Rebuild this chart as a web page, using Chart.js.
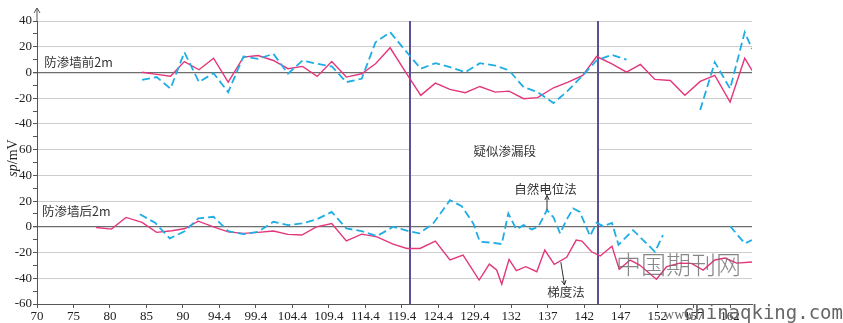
<!DOCTYPE html>
<html>
<head>
<meta charset="utf-8">
<script src="https://cdn.jsdelivr.net/npm/chart.js@4.4.1/dist/chart.umd.min.js"></script>
<style>
  html, body { margin: 0; padding: 0; background: #fff; }
  #wrap { width: 843px; height: 323px; }
</style>
</head>
<body>
<div id="wrap"><canvas id="spChart" width="843" height="323"></canvas></div>
<script>
// stations along the wall (m) and tick captions
const xLabels = ['70', '75', '80', '85', '90', '94.4', '99.4', '104.4', '109.4', '114.4',
  '119.4', '124.4', '129.4', '132', '137', '142', '147', '152', '157', '162'];

// 2 m in front of the cut-off wall (shifted up by OFFSET on the shared axis)
const upperStations = [84.4, 86.4, 88.3, 90.2, 92.2, 94.2, 96.2, 98.3, 100.3, 102.4, 104.4,
  106.4, 108.4, 110.4, 112.4, 114.5, 116.4, 118.4, 120.5, 122.6, 124.6, 126.6, 128.7, 130.7,
  132.8, 134.7, 136.7, 138.6, 140.8, 142.8, 144.8, 146.7, 148.8, 150.8, 152.7, 154.7, 156.8,
  158.8, 160.9, 162.9, 165.0, 167.0, 168.0];
const upperGradient = [0.2, -1.5, -2.9, 8.5, 2.1, 11.1, -7.5, 11.9, 13.2, 9.3, 2.9, 4.7, -3.1,
  8.5, -3.6, -1, 6.7, 19.2, 0.5, -17.8, -8.3, -13.2, -15.7, -10.9, -15.3, -14.5, -20.4, -19.6,
  -11.9, -7.5, -2.3, 12.4, 6.7, 0.2, 6.2, -5.4, -6.2, -17.8, -7, -2.3, -23, 11.1, 1.6];
const upperSelfPotential = [-5.7, -3.6, -12.6, 15.7, -7.5, -0.5, -15.3, 12.4, 10.6, 14.5, -1,
  9.3, 6.7, 4.7, -7.5, -4.9, 23.5, 31.3, 17, 2.9, 7.2, 4.1, 0.2, 7.2, 5.4, 1.6, -11.4, -15.3,
  -23.8, -14, -2.3, 9.3, 13.7, 9.9, null, null, null, null, -29.2, 8, -12.6, 31.3, 18.4];

// 2 m behind the cut-off wall
const lowerGradientX = [78.1, 80.2, 82.2, 84.4, 86.4, 88.5, 90.3, 92.1, 94.2, 96.2, 98.3,
  100.3, 102.4, 104.4, 106.3, 108.3, 110.4, 112.4, 114.5, 116.6, 118.8, 120.7, 122.5, 124.6,
  126.6, 128.4, 130.6, 132.0, 133.0, 133.7, 134.7, 135.7, 137.0, 138.5, 139.6, 140.9, 142.6,
  143.9, 144.7, 146.0, 147.2, 148.8, 149.8, 151.3, 152.6, 154.9, 156.3, 158.1, 159.7, 161.3,
  162.9, 164.3, 165.9, 168.0];
const lowerGradient = [-0.5, -1.8, 7.3, 3.4, -4.3, -3.1, -1.3, 4.4, 0, -3.9, -5.1, -4.3, -3.3,
  -5.9, -6.4, 0, 2.6, -10.9, -5.7, -7.8, -13.4, -16.8, -16.8, -11.1, -25.8, -22, -41.4, -29,
  -33.6, -44.7, -25.3, -34.1, -31, -34.9, -18.1, -29.2, -23.7, -10.3, -11.1, -19.4, -22.7, -15,
  -33, -25.8, -29.7, -40.8, -31, -28.2, -28.4, -33.6, -25.8, -24.3, -28.2, -27.4];
const lowerSpX = [84.1, 86.2, 88.2, 90.3, 92.1, 94.2, 96.2, 98.3, 100.3, 102.4, 104.4, 106.3,
  108.3, 110.4, 112.4, 114.5, 116.6, 118.8, 120.7, 122.4, 124.3, 126.6, 128.2, 129.8, 130.7,
  132.5, 133.7, 134.6, 135.7, 136.7, 137.8, 138.7, 139.9, 140.8, 141.7, 142.6, 143.5, 144.4,
  145.8, 146.7, 147.6, 148.8, 149.7, 151.7, 154.7, 155.8, 160.9, 165.0, 167.0, 168.0];
const lowerSp = [9.8, 3.1, -9, -3.3, 6.5, 7.8, -3.3, -5.7, -3.9, 3.9, 1.3, 2.6, 5.7, 11.6,
  -1.3, -3.3, -7.2, 0, -3, -5.1, 2.6, 20.7, 16.1, 2.6, -11.6, -12.4, -13.4, 10.4, -2, 1.3, -2,
  0, 13, 7.3, -5.1, 5.7, 14.3, 11.6, -7.2, 3.1, 0.5, 3.1, -14, -2.6, -19.4, -6.4, null, 0.5,
  -12.9, -10.3];

// suspected leakage section bounds (m)
const leakZone = [121.1, 146.9];

const OFFSET = 120;
const PINK = '#e4367b';
const BLUE = '#1fadE4';
const AXIS = '#555';
const ZONE = '#5a4f98';
const SERIF = '"Liberation Serif", "DejaVu Serif", serif';
const CJK = '"Noto Sans CJK SC", "Noto Sans", sans-serif';

const toPts = (xs, ys, off) => xs.map((x, i) => ({ x, y: ys[i] == null ? null : ys[i] + off }));

function arrow(ctx, x0, y0, x1, y1) {
  const ang = Math.atan2(y1 - y0, x1 - x0), h = 5;
  ctx.beginPath();
  ctx.moveTo(x0, y0); ctx.lineTo(x1, y1);
  ctx.moveTo(x1 - h * Math.cos(ang - 0.45), y1 - h * Math.sin(ang - 0.45));
  ctx.lineTo(x1, y1);
  ctx.lineTo(x1 - h * Math.cos(ang + 0.45), y1 - h * Math.sin(ang + 0.45));
  ctx.stroke();
}

const annotations = {
  id: 'annotations',
  beforeDatasetsDraw(chart) {
    const { ctx, chartArea: a, scales: { x, y } } = chart;
    const x0 = x.getPixelForValue(leakZone[0]), x1 = x.getPixelForValue(leakZone[1]);
    ctx.save();
    // blank strip behind the section caption
    ctx.fillStyle = '#fff';
    ctx.fillRect(x0, y.getPixelForValue(68), x1 - x0, y.getPixelForValue(51) - y.getPixelForValue(68));
    ctx.strokeStyle = ZONE;
    ctx.lineWidth = 2;
    [x0, x1].forEach(px => {
      ctx.beginPath();
      ctx.moveTo(Math.round(px), a.top);
      ctx.lineTo(Math.round(px), a.bottom);
      ctx.stroke();
    });
    ctx.restore();
  },
  afterDatasetsDraw(chart) {
    const { ctx, scales: { x, y } } = chart;
    ctx.save();
    ctx.fillStyle = '#333';
    ctx.font = '12.5px ' + CJK;
    ctx.textBaseline = 'middle';
    ctx.textAlign = 'left';
    ctx.fillText('防渗墙前2m', x.getPixelForValue(71), y.getPixelForValue(127.8));
    ctx.fillText('防渗墙后2m', x.getPixelForValue(70.7), y.getPixelForValue(12.4));
    ctx.textAlign = 'center';
    ctx.fillText('疑似渗漏段', x.getPixelForValue(134.1), y.getPixelForValue(59));
    ctx.fillText('自然电位法', x.getPixelForValue(139.7), y.getPixelForValue(29.2));
    ctx.fillText('梯度法', x.getPixelForValue(142.5), y.getPixelForValue(-51.2));
    ctx.strokeStyle = '#333';
    ctx.lineWidth = 1;
    arrow(ctx, x.getPixelForValue(139.9), y.getPixelForValue(13), x.getPixelForValue(139.9), y.getPixelForValue(24.4));
    arrow(ctx, x.getPixelForValue(141.8), y.getPixelForValue(-27.5), x.getPixelForValue(142.3), y.getPixelForValue(-45.2));
    ctx.restore();
  },
  afterDraw(chart) {
    const { ctx, chartArea: a } = chart;
    ctx.save();
    // arrow on top of the value axis
    ctx.strokeStyle = AXIS;
    ctx.lineWidth = 1;
    ctx.beginPath();
    ctx.moveTo(a.left, a.top);
    ctx.lineTo(a.left, a.top - 13);
    ctx.moveTo(a.left - 3, a.top - 8);
    ctx.lineTo(a.left, a.top - 13);
    ctx.lineTo(a.left + 3, a.top - 8);
    ctx.stroke();

    // axis title: italic "sp" + "/mV"
    ctx.translate(13, 158);
    ctx.rotate(-Math.PI / 2);
    ctx.fillStyle = '#222';
    ctx.textBaseline = 'middle';
    const it = 'italic 14px ' + SERIF, rm = '14px ' + SERIF;
    ctx.font = it; const w1 = ctx.measureText('sp').width;
    ctx.font = rm; const w2 = ctx.measureText('/mV').width;
    ctx.textAlign = 'left';
    ctx.font = it; ctx.fillText('sp', -(w1 + w2) / 2, 0);
    ctx.font = rm; ctx.fillText('/mV', -(w1 + w2) / 2 + w1, 0);
    ctx.setTransform(1, 0, 0, 1, 0, 0);

    // site watermark
    ctx.fillStyle = 'rgba(105,105,105,0.8)';
    ctx.font = '300 25px ' + CJK;
    ctx.textAlign = 'left';
    ctx.textBaseline = 'middle';
    ctx.fillText('中国期刊网', 616, 264);
    ctx.fillStyle = '#666';
    ctx.textBaseline = 'alphabetic';
    ctx.textAlign = 'right';
    ctx.font = '19px "DejaVu Sans Mono", monospace';
    ctx.fillText('chinaqking.com', 843, 319);
    ctx.font = '14px ' + SERIF;
    ctx.fillText('www.', 697, 319);
    ctx.restore();
  }
};

const ds = (data, color, dashed) => ({
  data,
  borderColor: color,
  borderWidth: dashed ? 1.8 : 1.4,
  borderDash: dashed ? [8, 4] : [],
  pointRadius: 0,
  tension: 0,
  spanGaps: false,
  fill: false
});

new Chart(document.getElementById('spChart').getContext('2d'), {
  type: 'line',
  data: {
    datasets: [
      ds(toPts(upperStations, upperSelfPotential, OFFSET), BLUE, true),
      ds(toPts(upperStations, upperGradient, OFFSET), PINK, false),
      ds(toPts(lowerSpX, lowerSp, 0), BLUE, true),
      ds(toPts(lowerGradientX, lowerGradient, 0), PINK, false)
    ]
  },
  options: {
    responsive: false,
    animation: false,
    layout: { padding: { top: 21, right: 91, left: 0, bottom: 0 } },
    plugins: { legend: { display: false }, tooltip: { enabled: false } },
    scales: {
      x: {
        type: 'linear',
        min: 70,
        max: 168,
        afterFit: s => { s.height = 19; },
        ticks: {
          stepSize: 5,
          includeBounds: false,
          autoSkip: false,
          maxRotation: 0,
          padding: 1,
          color: '#222',
          font: { family: SERIF, size: 13 },
          callback: v => xLabels[Math.round((v - 70) / 5)] ?? ''
        },
        grid: { drawOnChartArea: false, tickLength: 4, tickColor: AXIS },
        border: { color: AXIS }
      },
      y: {
        min: -60,
        max: 160,
        afterFit: s => { s.width = 37; },
        ticks: {
          stepSize: 10,
          autoSkip: false,
          padding: 1,
          color: '#222',
          font: { family: SERIF, size: 13 },
          callback: v => v % 20 === 0 ? String(v > 60 ? v - OFFSET : v) : ''
        },
        grid: {
          color: c => {
            const v = c.tick.value;
            if (v === 0 || v === OFFSET) return '#6e6e6e';
            return v % 20 === 0 ? '#cdcdcd' : 'rgba(0,0,0,0)';
          },
          lineWidth: c => (c.tick.value === 0 || c.tick.value === OFFSET) ? 1.3 : 1,
          tickLength: 4,
          tickColor: AXIS
        },
        border: { color: AXIS }
      }
    }
  },
  plugins: [annotations]
});
</script>
</body>
</html>
